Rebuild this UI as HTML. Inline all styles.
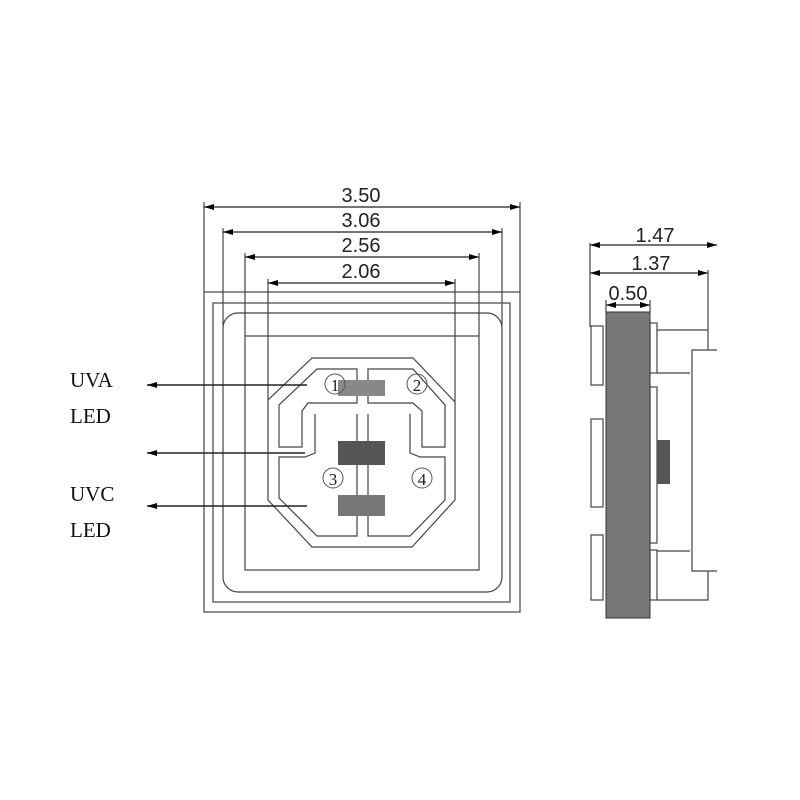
<!DOCTYPE html>
<html><head><meta charset="utf-8"><style>html,body{margin:0;padding:0;background:#fff}svg{display:block}</style></head>
<body>
<svg width="800" height="800" viewBox="0 0 800 800" xmlns="http://www.w3.org/2000/svg">
<defs>
<marker id="a" viewBox="0 0 10 6" refX="10" refY="3" markerWidth="10" markerHeight="6" markerUnits="userSpaceOnUse" orient="auto-start-reverse"><path d="M0,0 L10,3 L0,6 z" fill="#000"/></marker>
</defs>
<g fill="none" stroke="#444" stroke-width="1.2">
<!-- package outlines -->
<rect x="204" y="292" width="316" height="320"/>
<rect x="213" y="303" width="297" height="299"/>
<rect x="223" y="313" width="279" height="279" rx="15"/>
<rect x="245" y="336" width="234" height="234"/>
<!-- extension lines -->
<line x1="204" y1="202" x2="204" y2="292"/><line x1="520" y1="202" x2="520" y2="292"/>
<line x1="223" y1="228" x2="223" y2="325"/><line x1="502" y1="228" x2="502" y2="325"/>
<line x1="245" y1="253" x2="245" y2="336"/><line x1="479" y1="253" x2="479" y2="336"/>
<line x1="268" y1="279" x2="268" y2="400"/><line x1="455" y1="279" x2="455" y2="402"/>
<!-- octagon -->
<polygon points="312,358 413,358 455,402 455,500 412,547 312,547 268,500 268,400"/>
<polygon points="317,369 357,369 357,403 308,403 302,411 302,447 279,447 279,405"/>
<polygon points="368,369 413,369 445,405 445,447 422,447 422,411 413,403 368,403"/>
<polyline points="357,414 357,536 317,536 279,498 279,457 305,457 315,453 315,414"/>
<polyline points="368,414 368,536 410,536 445,500 445,457 420,457 410,453 410,414"/>
</g>
<rect x="338" y="380" width="47" height="16" fill="#888"/>
<rect x="338" y="441" width="47" height="24" fill="#555"/>
<rect x="338" y="495" width="47" height="21" fill="#777"/>
<g font-family="Liberation Serif, serif" font-size="20" text-anchor="middle" fill="#222">
<circle cx="335" cy="384" r="10" fill="none" stroke="#555"/><text x="335" y="391" font-size="17">1</text>
<circle cx="417" cy="384" r="10" fill="none" stroke="#555"/><text x="417" y="391" font-size="17">2</text>
<circle cx="333" cy="478" r="10" fill="none" stroke="#555"/><text x="333" y="485" font-size="17">3</text>
<circle cx="422" cy="478" r="10" fill="none" stroke="#555"/><text x="422" y="485" font-size="17">4</text>
</g>
<!-- dimension lines -->
<g stroke="#222" stroke-width="1.2" marker-start="url(#a)" marker-end="url(#a)">
<line x1="204" y1="207" x2="520" y2="207"/>
<line x1="223" y1="232" x2="502" y2="232"/>
<line x1="245" y1="257" x2="479" y2="257"/>
<line x1="268" y1="283" x2="455" y2="283"/>
<line x1="590" y1="245" x2="717" y2="245"/>
<line x1="590" y1="273" x2="708" y2="273"/>
<line x1="606" y1="305" x2="650" y2="305"/>
</g>
<g font-family="Liberation Sans, sans-serif" font-size="20" text-anchor="middle" fill="#222">
<text x="361" y="202">3.50</text>
<text x="361" y="227">3.06</text>
<text x="361" y="252">2.56</text>
<text x="361" y="278">2.06</text>
<text x="655" y="242">1.47</text>
<text x="651" y="270">1.37</text>
<text x="628" y="300">0.50</text>
</g>
<!-- label arrows -->
<g stroke="#222" stroke-width="1.4" marker-end="url(#a)">
<line x1="307" y1="385" x2="147" y2="385"/>
<line x1="305" y1="453" x2="147" y2="453"/>
<line x1="307" y1="506" x2="147" y2="506"/>
</g>
<g font-family="Liberation Serif, serif" font-size="21" fill="#111">
<text x="70" y="387">UVA</text>
<text x="70" y="423">LED</text>
<text x="70" y="501">UVC</text>
<text x="70" y="537">LED</text>
</g>
<!-- side view -->
<g fill="none" stroke="#444" stroke-width="1.2">
<line x1="590" y1="243" x2="590" y2="327"/>
<line x1="708" y1="270" x2="708" y2="350"/>
<line x1="606" y1="300" x2="606" y2="312"/><line x1="650" y1="300" x2="650" y2="312"/>
<rect x="591" y="326" width="12" height="59"/>
<rect x="591" y="419" width="12" height="88"/>
<rect x="591" y="535" width="12" height="65"/>
<rect x="650" y="323" width="7" height="50"/>
<rect x="650" y="387" width="7" height="156"/>
<rect x="650" y="550" width="7" height="50"/>
<polyline points="657,330 708,330"/>
<polyline points="657,373 690,373"/>
<polyline points="717,350 692,350 692,571 717,571"/>
<polyline points="657,551 690,551"/>
<polyline points="657,600 708,600 708,571"/>
</g>
<rect x="606" y="312" width="44" height="306" fill="#777" stroke="#333" stroke-width="1"/>
<rect x="657" y="440" width="13" height="44" fill="#555"/>
</svg>
</body></html>
